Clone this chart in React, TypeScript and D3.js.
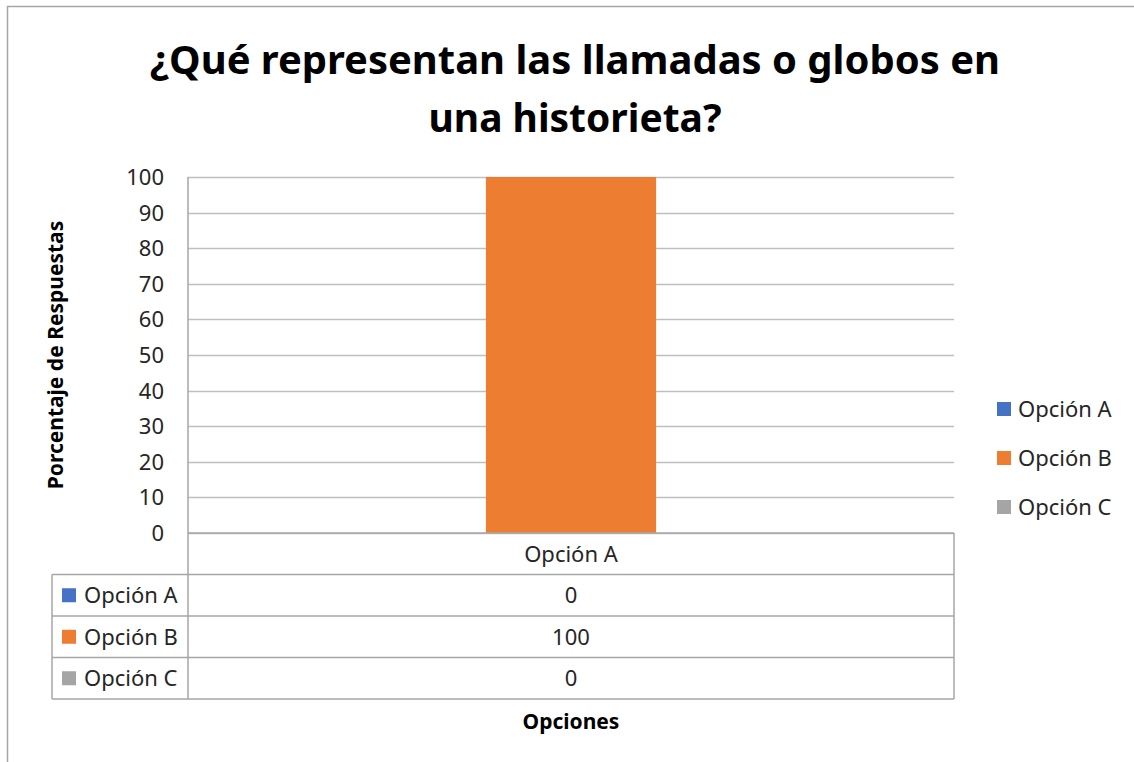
import { useEffect, useRef } from "react";
import * as d3 from "d3";

const categories = ["Opción A"];
const seriesNames = ["Opción A", "Opción B", "Opción C"];
const seriesValues = [[0], [100], [0]];
const seriesColors = ["#4472C4", "#ED7D31", "#A5A5A5"];
const yTicks = [0, 10, 20, 30, 40, 50, 60, 70, 80, 90, 100];
const titleLines = ["¿Qué representan las llamadas o globos en", "una historieta?"];

const FONT = "'Noto Sans', 'Open Sans', sans-serif";

export default function App() {
  const ref = useRef<SVGSVGElement>(null);

  useEffect(() => {
    if (!ref.current) return;
    const svg = d3.select(ref.current);
    svg.selectAll("*").remove();

    const width = 1134;
    const height = 762;
    const plot = { left: 188, right: 954, top: 177, bottom: 533 };
    const tableBottom = 699;

    svg.attr("width", width).attr("height", height).style("font-family", FONT);

    svg.append("rect").attr("width", width).attr("height", height).attr("fill", "#fff");

    // chart border (only top and left visible)
    svg
      .append("path")
      .attr("d", `M7.5,${height} V6.5 H${width}`)
      .attr("fill", "none")
      .attr("stroke", "#a6a6a6")
      .attr("stroke-width", 1.5);

    // title
    const titleWidths = [850, 293];
    titleLines.forEach((line, i) => {
      svg
        .append("text")
        .attr("x", 575)
        .attr("y", 74 + i * 58)
        .attr("text-anchor", "middle")
        .attr("textLength", titleWidths[i])
        .attr("lengthAdjust", "spacingAndGlyphs")
        .style("font-weight", "bold")
        .style("font-size", "40px")
        .attr("fill", "#000")
        .text(line);
    });

    const y = d3.scaleLinear().domain([0, 100]).range([plot.bottom, plot.top]);
    const x0 = d3.scaleBand<string>().domain(categories).range([plot.left, plot.right]).padding(0);
    const x1 = d3
      .scaleBand<string>()
      .domain(seriesNames)
      .range([0, x0.bandwidth()])
      .paddingInner(0)
      .paddingOuter(0.75);

    // gridlines
    svg
      .append("g")
      .selectAll("line")
      .data(yTicks)
      .join("line")
      .attr("x1", plot.left)
      .attr("x2", plot.right)
      .attr("y1", (d) => Math.round(y(d)) + 0.5)
      .attr("y2", (d) => Math.round(y(d)) + 0.5)
      .attr("stroke", "#bfbfbf")
      .attr("stroke-width", 1.3);

    // y tick labels
    svg
      .append("g")
      .selectAll("text")
      .data(yTicks)
      .join("text")
      .attr("x", 164)
      .attr("y", (d) => y(d))
      .attr("dy", "0.36em")
      .attr("text-anchor", "end")
      .style("font-size", "22px")
      .attr("fill", "#262626")
      .text((d) => d);

    // bars
    const barData = seriesNames.flatMap((s, si) =>
      categories.map((c, ci) => ({ series: s, cat: c, value: seriesValues[si][ci], color: seriesColors[si] }))
    );
    svg
      .append("g")
      .selectAll("rect")
      .data(barData)
      .join("rect")
      .attr("x", (d) => (x0(d.cat) || 0) + (x1(d.series) || 0))
      .attr("y", (d) => y(d.value))
      .attr("width", x1.bandwidth())
      .attr("height", (d) => y(0) - y(d.value))
      .attr("fill", (d) => d.color);

    // data table
    const rows = d3
      .scaleBand<string>()
      .domain(["header", ...seriesNames])
      .range([plot.bottom, tableBottom]);
    const tableStroke = "#a6a6a6";
    const tg = svg.append("g").attr("stroke", tableStroke).attr("stroke-width", 1.5).attr("fill", "none");
    // horizontal row lines
    rows.domain().forEach((r) => {
      const yy = (rows(r) || 0) + rows.bandwidth();
      tg.append("line").attr("x1", 52).attr("x2", plot.right).attr("y1", yy).attr("y2", yy);
    });
    tg.append("line")
      .attr("x1", plot.left)
      .attr("x2", plot.right)
      .attr("y1", plot.bottom)
      .attr("y2", plot.bottom);
    // verticals
    tg.append("line").attr("x1", plot.left).attr("x2", plot.left).attr("y1", plot.top).attr("y2", tableBottom);
    tg.append("line").attr("x1", plot.right).attr("x2", plot.right).attr("y1", plot.bottom).attr("y2", tableBottom);
    tg.append("line")
      .attr("x1", 52)
      .attr("x2", 52)
      .attr("y1", (rows("header") || 0) + rows.bandwidth())
      .attr("y2", tableBottom);

    const txt = "22px";

    // header category labels
    svg
      .append("g")
      .selectAll("text")
      .data(categories)
      .join("text")
      .attr("x", (d) => (x0(d) || 0) + x0.bandwidth() / 2)
      .attr("y", (rows("header") || 0) + rows.bandwidth() / 2)
      .attr("dy", "0.36em")
      .attr("text-anchor", "middle")
      .style("font-size", txt)
      .attr("fill", "#262626")
      .text((d) => d);

    // table rows
    seriesNames.forEach((s, si) => {
      const cy = (rows(s) || 0) + rows.bandwidth() / 2;
      svg
        .append("rect")
        .attr("x", 62)
        .attr("y", cy - 7)
        .attr("width", 14)
        .attr("height", 14)
        .attr("fill", seriesColors[si]);
      svg
        .append("text")
        .attr("x", 84)
        .attr("y", cy)
        .attr("dy", "0.36em")
        .style("font-size", txt)
        .attr("fill", "#262626")
        .text(s);
      categories.forEach((c, ci) => {
        svg
          .append("text")
          .attr("x", (x0(c) || 0) + x0.bandwidth() / 2)
          .attr("y", cy)
          .attr("dy", "0.36em")
          .attr("text-anchor", "middle")
          .style("font-size", txt)
          .attr("fill", "#262626")
          .text(seriesValues[si][ci]);
      });
    });

    // legend
    const legend = svg.append("g").attr("transform", "translate(997, 409)");
    seriesNames.forEach((s, i) => {
      const row = legend.append("g").attr("transform", `translate(0, ${i * 49})`);
      row.append("rect").attr("x", 0).attr("y", -7).attr("width", 14).attr("height", 14).attr("fill", seriesColors[i]);
      row
        .append("text")
        .attr("x", 21)
        .attr("y", 0)
        .attr("dy", "0.36em")
        .style("font-size", txt)
        .attr("fill", "#262626")
        .text(s);
    });

    // axis titles
    svg
      .append("text")
      .attr("transform", `translate(55, ${(plot.top + plot.bottom) / 2}) rotate(-90)`)
      .attr("text-anchor", "middle")
      .attr("dy", "0.36em")
      .style("font-weight", "bold")
      .style("font-size", "21px")
      .attr("fill", "#000")
      .text("Porcentaje de Respuestas");

    svg
      .append("text")
      .attr("x", (plot.left + plot.right) / 2)
      .attr("y", 721)
      .attr("dy", "0.36em")
      .attr("text-anchor", "middle")
      .style("font-weight", "bold")
      .style("font-size", "21px")
      .attr("fill", "#000")
      .text("Opciones");
  }, []);

  return (
    <div style={{ position: "absolute", left: 0, top: 0 }}>
      <svg ref={ref}></svg>
    </div>
  );
}
